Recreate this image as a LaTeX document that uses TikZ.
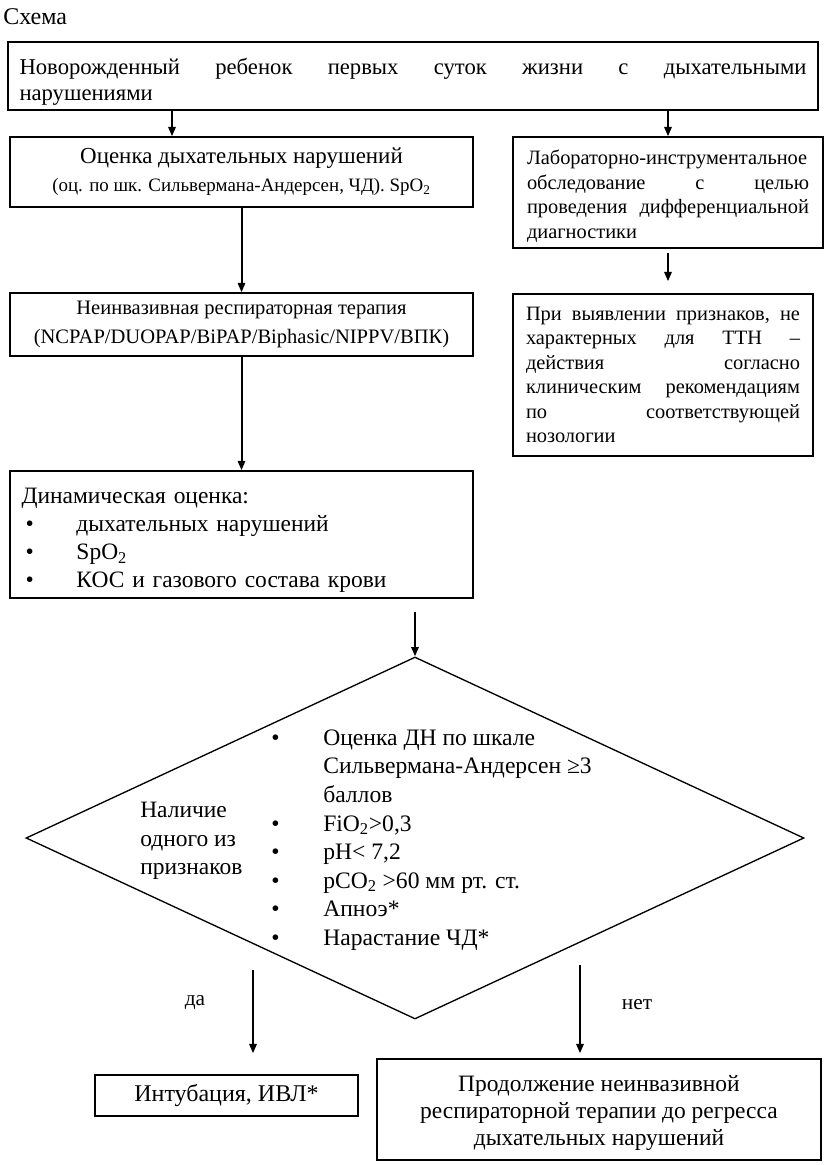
\documentclass[tikz,border=0pt]{standalone}
\usepackage{fontspec}
\setmainfont{Liberation Serif}
\usetikzlibrary{arrows.meta,shapes.geometric}
\newdimen\pxu \pxu=0.75pt
\newcommand{\bul}{\makebox[52\pxu][l]{•}}
\newcommand{\bulsp}{\hspace*{52\pxu}}
\begin{document}
\begin{tikzpicture}[x=0.75pt,y=-0.75pt,
  box/.style={draw, line width=1.1pt, inner sep=0pt},
  arr/.style={line width=1.5pt, -{Triangle[length=7pt,width=5.5pt]}},
  lbl/.style={inner sep=0pt}
]
\useasboundingbox (0,0) rectangle (827,1165);

\node[lbl, anchor=west, font=\fontsize{18}{20}\selectfont] (title) at (3,17) {Схема};

\node[box, minimum width=810\pxu, minimum height=68\pxu, text width=787\pxu,
  font=\fontsize{17}{19.5}\selectfont] (b1) at (413,76)
  {\rule{0pt}{21pt}Новорожденный\hfill ребенок\hfill первых\hfill суток\hfill жизни\hfill с\hfill дыхательными\\нарушениями};

\node[box, minimum width=463\pxu, minimum height=70\pxu, align=center,
  font=\fontsize{17.2}{21}\selectfont] (b2) at (241.5,172)
  {Оценка дыхательных нарушений\\{\fontsize{14.2}{21}\selectfont (оц. по шк. Сильвермана-Андерсен, ЧД). SpO\textsubscript{2}}};

\node[box, minimum width=310\pxu, minimum height=111\pxu, text width=282\pxu,
  font=\fontsize{15.3}{18.4}\selectfont] (b3) at (668,192.5)
  {\rule{0pt}{16.5pt}Лабораторно-инструментальное\\обследование\hfill с\hfill целью\\проведения\hfill дифференциальной\\диагностики};

\node[box, minimum width=300\pxu, minimum height=162\pxu, text width=274\pxu,
  font=\fontsize{15.3}{18.3}\selectfont] (b4) at (663,375)
  {При\hfill выявлении\hfill признаков,\hfill не\\характерных\hfill для\hfill ТТН\hfill –\\действия\hfill согласно\\клиническим\hfill рекомендациям\\по\hfill соответствующей\\нозологии};

\node[box, minimum width=463\pxu, minimum height=63\pxu, align=center,
  font=\fontsize{15.4}{21.75}\selectfont] (b5) at (241.5,324.5)
  {\raisebox{-3\pxu}{Неинвазивная респираторная терапия}\\\raisebox{-3\pxu}{(NCPAP/DUOPAP/BiPAP/Biphasic/NIPPV/ВПК)}};

\node[box, minimum width=463\pxu, minimum height=127\pxu, text width=440\pxu,
  font=\fontsize{17.6}{21}\selectfont] (b6) at (241.5,534.5)
  {\rule{0pt}{20.5pt}Динамическая оценка:\\
   \hspace*{4\pxu}\makebox[51\pxu][l]{•}дыхательных нарушений\\
   \hspace*{4\pxu}\makebox[51\pxu][l]{•}SpO\textsubscript{2}\\
   \hspace*{4\pxu}\makebox[51\pxu][l]{•}КОС и газового состава крови};

\node[diamond, draw, line width=1pt, minimum width=778\pxu, minimum height=362\pxu, inner sep=0pt] (dia) at (415,838) {};

\node[lbl, anchor=west, align=left, font=\fontsize{17.6}{21.4}\selectfont] (dl) at (140,841)
  {Наличие\\одного из\\признаков};
\node[lbl, anchor=west, align=left, font=\fontsize{17.7}{21.4}\selectfont] (dr) at (271,840)
  {\bul Оценка ДН по шкале\\
   \bulsp Сильвермана-Андерсен ≥3\\
   \bulsp баллов\\
   \bul FiO\textsubscript{2}>0,3\\
   \bul pH< 7,2\\
   \bul pCO\textsubscript{2} >60 мм рт. ст.\\
   \bul Апноэ*\\
   \bul Нарастание ЧД*};

\node[box, minimum width=263\pxu, minimum height=41\pxu, font=\fontsize{18}{20}\selectfont] (b7) at (226.5,1095.5) {Интубация, ИВЛ*};
\node[box, minimum width=444\pxu, minimum height=101\pxu, align=center,
  font=\fontsize{17.6}{20.25}\selectfont] (b8) at (599,1109.5)
  {\rule{0pt}{18pt}Продолжение неинвазивной\\респираторной терапии до регресса\\дыхательных нарушений};

\node[lbl, font=\fontsize{16}{18}\selectfont] (da) at (195,1003) {да};
\node[lbl, font=\fontsize{16}{18}\selectfont] (net) at (637,1005) {нет};

\coordinate (x1) at (172,0);
\coordinate (x2) at (668,0);
\coordinate (y1) at (0,612);
\coordinate (s1) at (dia.north |- y1);
\coordinate (s2) at (253,970);
\coordinate (s3) at (580,965);

\draw[arr] (b1.south -| x1) -- (b2.north -| x1);
\draw[arr] (b1.south -| x2) -- (b3.north -| x2);
\draw[arr] (b2.south) -- (b5.north);
\draw[arr] (b5.south) -- (b6.north);
\draw[arr, shorten <=4\pxu, shorten >=12\pxu] (b3.south -| x2) -- (b4.north -| x2);
\draw[arr] (s1) -- (dia.north);
\draw[arr, shorten >=21\pxu] (s2) -- (s2 |- b7.north);
\draw[arr, shorten >=5\pxu] (s3) -- (s3 |- b8.north);
\end{tikzpicture}
\end{document}
